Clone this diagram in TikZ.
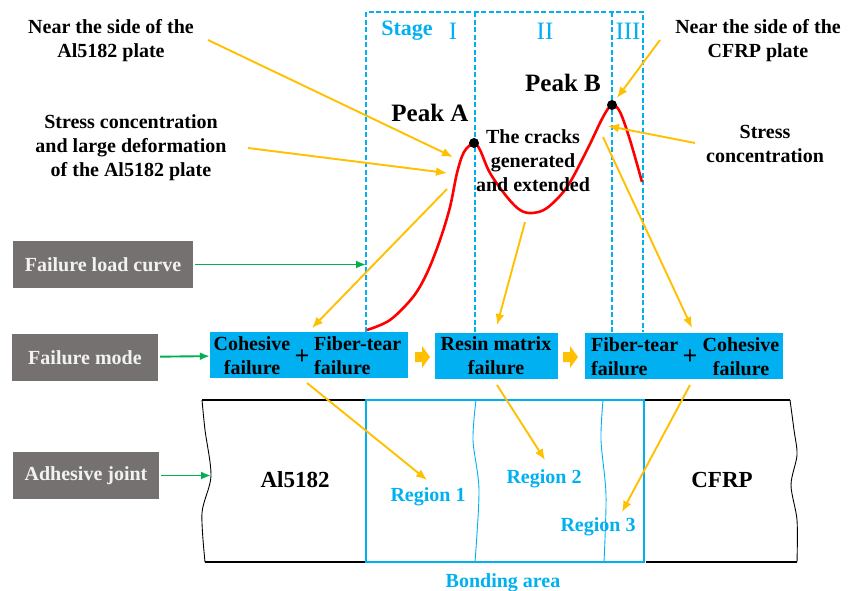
\documentclass[tikz,border=0pt]{standalone}
\usepackage{fontspec}
\setmainfont{Liberation Serif}
\usepackage{tikz}
\usetikzlibrary{arrows.meta}
\definecolor{stageblue}{HTML}{00B0F0}
\definecolor{callgold}{HTML}{FFC000}
\definecolor{linkgreen}{HTML}{00B050}
\definecolor{taggray}{HTML}{767171}
\definecolor{tagtext}{HTML}{F2F2F2}
\tikzset{
  txt/.style={font=\fontsize{20}{24}\selectfont\bfseries, align=center, inner sep=0pt},
  graytag/.style={fill=taggray, text=tagtext, font=\fontsize{20}{24}\selectfont\bfseries,
    minimum height=47pt, inner sep=0pt},
  modebox/.style={fill=stageblue, minimum height=46pt, inner sep=0pt},
  callout/.style={callgold, line width=1.9pt, -{Latex[length=11pt,width=9pt]}},
  link/.style={linkgreen, line width=1.9pt, -{Latex[length=10pt,width=8pt]}},
  stageline/.style={stageblue, line width=1.6pt, dash pattern=on 5pt off 2.5pt},
  peak/.style={circle, fill=black, inner sep=0pt, minimum size=10pt},
  regionlbl/.style={text=stageblue, font=\fontsize{20}{24}\selectfont\bfseries, inner sep=0pt}
}

\begin{document}
\begin{tikzpicture}[x=1pt,y=-1pt]
  % Configurable parameters
  \def\stagetop{12}
  \def\boxtop{332}
  \useasboundingbox (0,0) rectangle (858,590);
  %
  % Stage frame
  \draw[stageline] (366,\boxtop) -- (366,\stagetop) -- (643,\stagetop) -- (643,\boxtop);
  \draw[stageline] (475,\stagetop) -- (475,\boxtop);
  \draw[stageline] (612,\stagetop) -- (612,\boxtop);
  \node[text=stageblue, font=\fontsize{22}{24}\selectfont\bfseries, inner sep=0pt] (stage) at (407,31) {Stage};
  \node[text=stageblue, font=\fontsize{25}{24}\selectfont, inner sep=0pt] (st1) at (453,31) {I};
  \node[text=stageblue, font=\fontsize{25}{24}\selectfont, inner sep=0pt] (st2) at (545,31) {II};
  \node[text=stageblue, font=\fontsize{25}{24}\selectfont, inner sep=0pt] (st3) at (628,31) {III};
  %
  % Load curve
  \draw[red, line width=2.6pt] plot[smooth, tension=0.55] coordinates {
    (367,330) (390,320) (413,297) (427,273) (440,240) (450,207) (457,173) (464,152) (474,143)
    (480,150) (490,173) (507,197) (520,210) (532,213) (547,208) (567,187) (587,150)
    (603,117) (612,105) (620,112) (630,140) (642,182)};
  \node[peak] (peakA) at (474,143) {};
  \node[peak] (peakB) at (612,105) {};
  \node[txt, font=\fontsize{25}{24}\selectfont\bfseries] (lblA) at (430,113) {Peak A};
  \node[txt, font=\fontsize{25}{24}\selectfont\bfseries] (lblB) at (563,83) {Peak B};
  \node[txt] (cracks) at (533,161) {The cracks\\generated\\and extended};
  %
  % Notes
  \node[txt] (nearAl) at (111,41) {Near the side of the\\Al5182 plate};
  \node[txt] (stressAl) at (131,148) {Stress concentration\\and large deformation\\of the Al5182 plate};
  \node[txt] (nearCF) at (758,41) {Near the side of the\\CFRP plate};
  \node[txt] (stressCF) at (765,144) {Stress\\concentration};
  %
  % Failure modes
  \node[modebox, minimum width=198pt] (mode1) at (309,355) {};
  \node[modebox, minimum width=123pt] (mode2) at (496.5,355.5) {};
  \node[modebox, minimum width=198pt] (mode3) at (684,355.5) {};
  \node[txt] (coh1) at (252,356) {Cohesive\\failure};
  \node[txt, font=\fontsize{26}{26}\selectfont\bfseries] (plus1) at (302,357) {+};
  \node[txt, align=left, anchor=west] (fib1) at (314,356) {Fiber-tear\\failure};
  \node[txt] (resin) at (496,356) {Resin matrix\\failure};
  \node[txt, align=left, anchor=west] (fib2) at (591,357) {Fiber-tear\\failure};
  \node[txt, font=\fontsize{26}{26}\selectfont\bfseries] (plus2) at (690,357) {+};
  \node[txt] (coh2) at (741,357) {Cohesive\\failure};
  \coordinate (chev1) at (422,357);
  \coordinate (chev2) at (570,357);
  \foreach \c in {chev1,chev2}
    \fill[callgold] (\c) ++(-7,-5) -- ++(7,0) -- ++(0,-6) -- ++(8,11) -- ++(-8,11)
      -- ++(0,-6) -- ++(-7,0) -- cycle;
  %
  % Row tags
  \node[graytag, minimum width=180pt] (curveTag) at (103,264.5) {Failure load curve};
  \node[graytag, minimum width=146pt] (modeTag) at (85,357.5) {Failure mode};
  \node[graytag, minimum width=146pt] (jointTag) at (86,475.5) {Adhesive joint};
  \coordinate (curveIn) at (366,264.5);
  \coordinate (jointIn) at (211,475.5);
  \draw[link, shorten <=2pt] (curveTag) -- (curveIn);
  \draw[link, shorten <=2pt] (modeTag) -- (mode1);
  \draw[link, shorten <=2pt] (jointTag) -- (jointIn);
  %
  % Adhesive joint
  \draw[line width=0.9pt] plot[smooth] coordinates {(202,400) (205,430) (211,476) (202,513) (205,562)};
  \draw[line width=2.2pt] (202,400) -- (366,400);
  \draw[line width=2.2pt] (205,562) -- (366,562);
  \draw[line width=2.2pt] (644,400) -- (790,400);
  \draw[line width=2.2pt] (646,562) -- (797,562);
  \draw[line width=0.9pt] plot[smooth] coordinates {(790,400) (794,430) (797,455) (791,485) (797,520) (797,562)};
  \draw[stageblue, line width=0.9pt] plot[smooth] coordinates {(476,400) (473,440) (479,490) (475,562)};
  \draw[stageblue, line width=0.9pt] plot[smooth] coordinates {(603,400) (601,440) (606,495) (604,562)};
  \draw[stageblue, line width=2.2pt] (366,400) rectangle (644,562);
  \node[txt, font=\fontsize{23}{24}\selectfont\bfseries] (al) at (295,480) {Al5182};
  \node[txt, font=\fontsize{23}{24}\selectfont\bfseries] (cfrp) at (722,480) {CFRP};
  \node[regionlbl] (reg1) at (428,497) {Region 1};
  \node[regionlbl] (reg2) at (544,479) {Region 2};
  \node[regionlbl] (reg3) at (598,527) {Region 3};
  \node[regionlbl, anchor=base] (bond) at (503,587) {Bonding area};
  %
  % Callouts
  \coordinate (t1) at (208,40);  \coordinate (h1) at (453,157);
  \coordinate (t2) at (248,148); \coordinate (h2) at (447,173);
  \coordinate (t3) at (447,189); \coordinate (h3) at (312,328);
  \coordinate (t4) at (525,222); \coordinate (h4) at (497,325);
  \coordinate (t5) at (695,143); \coordinate (h5) at (608,126);
  \coordinate (t6) at (660,40);  \coordinate (h6) at (617,98);
  \coordinate (t7) at (603,137); \coordinate (h7) at (692,328);
  \coordinate (t8) at (307,383); \coordinate (h8) at (427,480);
  \coordinate (t9) at (497,385); \coordinate (h9) at (545,460);
  \coordinate (t10) at (690,385); \coordinate (h10) at (622,512);
  \foreach \i in {1,...,10}
    \draw[callout] (t\i) -- (h\i);
  %
\end{tikzpicture}
\end{document}
